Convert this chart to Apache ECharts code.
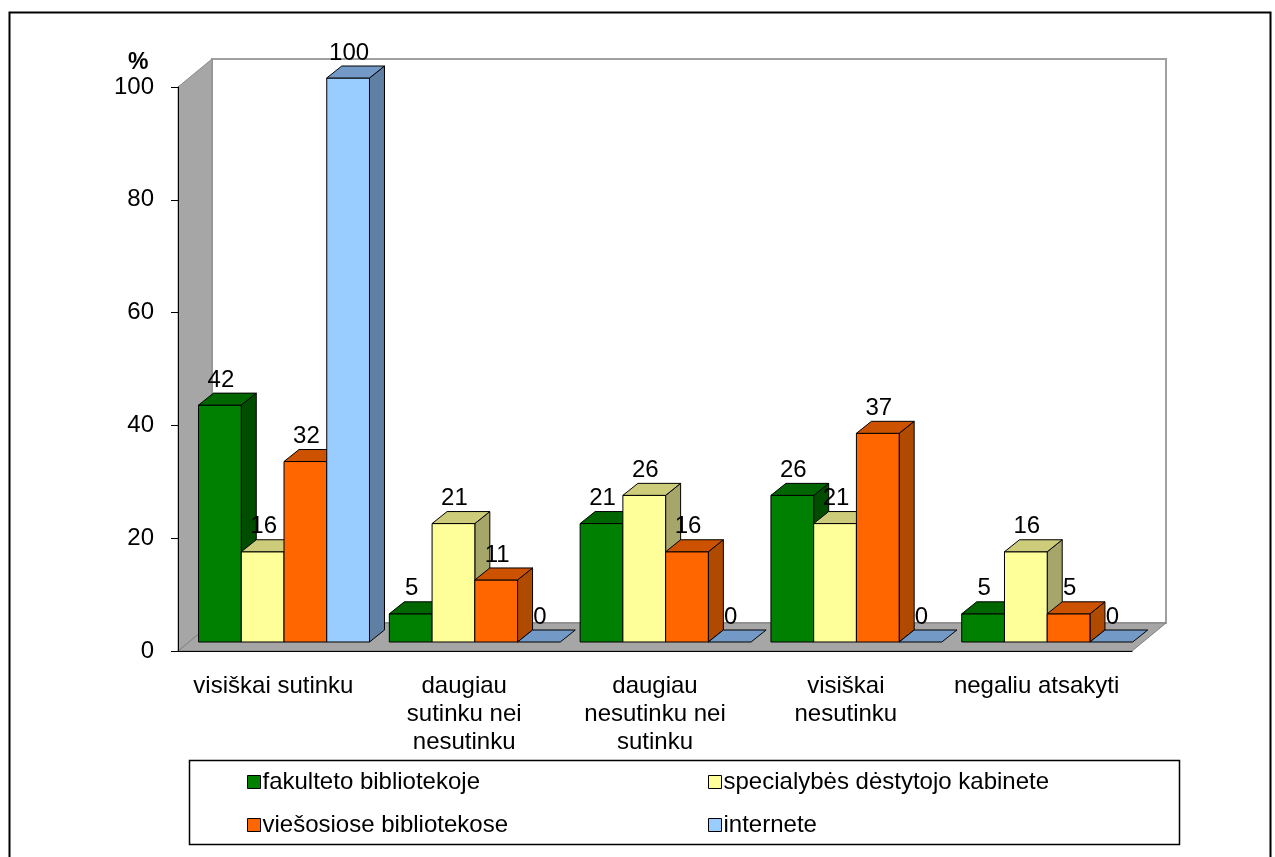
<!DOCTYPE html>
<html lang="lt">
<head>
<meta charset="UTF-8">
<script src="https://cdn.jsdelivr.net/npm/echarts@6/dist/echarts.min.js"></script>
<title>Atsakymai</title>
<style>
  html, body { margin: 0; padding: 0; background: #fff; }
  #chart { width: 1275px; height: 857px; }
</style>
</head>
<body>
<div id="chart"></div>
<script>
// data
const categories = ['visiškai sutinku', 'daugiau\nsutinku nei\nnesutinku', 'daugiau\nnesutinku nei\nsutinku', 'visiškai\nnesutinku', 'negaliu atsakyti'];
const seriesNames = ['fakulteto bibliotekoje', 'specialybės dėstytojo kabinete', 'viešosiose bibliotekose', 'internete'];
const fakultetoValues = [42, 5, 21, 26, 5];
const specialybesValues = [16, 21, 26, 21, 16];
const viesosioseValues = [32, 11, 16, 37, 5];
const interneteValues = [100, 0, 0, 0, 0];
const yTicks = [0, 20, 40, 60, 80, 100];

// face colours: front, top, side
const palette = [
  ['#008000', '#006600', '#004d00'],
  ['#FFFF99', '#CCCC7A', '#A6A66B'],
  ['#FF6600', '#CC5200', '#B04A00'],
  ['#99CCFF', '#7399C6', '#5F7FA3']
];

const DX = 11, DY = -9;     // bars sit a little behind the front axis plane
const BD = [15, -12];       // bar depth
const WD = [34, -28];       // wall depth
const font = '"Liberation Sans", Arial, sans-serif';

function barRenderer(s) {
  return function (params, api) {
    const idx = api.value(0), val = api.value(1);
    const base = api.coord([idx, 0]);
    const top = api.coord([idx, val]);
    const catW = api.size([1, 0])[0];
    const w = catW * 0.224;
    const x0 = base[0] - catW * 0.45 + s * w + DX;
    const yb = base[1] + DY, yt = top[1] + DY;
    const c = palette[s];
    const line = { stroke: '#000', lineWidth: 1 };
    const children = [];
    if (yb - yt > 0.5) {
      children.push({ type: 'polygon', shape: { points: [[x0 + w, yt], [x0 + w + BD[0], yt + BD[1]], [x0 + w + BD[0], yb + BD[1]], [x0 + w, yb]] }, style: Object.assign({ fill: c[2] }, line) });
      children.push({ type: 'rect', shape: { x: x0, y: yt, width: w, height: yb - yt }, style: Object.assign({ fill: c[0] }, line) });
    }
    children.push({ type: 'polygon', shape: { points: [[x0, yt], [x0 + w, yt], [x0 + w + BD[0], yt + BD[1]], [x0 + BD[0], yt + BD[1]]] }, style: Object.assign({ fill: c[1] }, line) });
    children.push({ type: 'text', x: x0 + w / 2 + 1, y: yt + BD[1] - 1, style: { text: String(val), font: '24px ' + font, fill: '#000', align: 'center', verticalAlign: 'bottom' } });
    return { type: 'group', children: children };
  };
}

function wallRenderer(params, api) {
  const catW = api.size([1, 0])[0];
  const left = api.coord([0, 0])[0] - catW / 2;
  const right = api.coord([categories.length - 1, 0])[0] + catW / 2;
  const y0 = api.coord([0, 0])[1];
  const y100 = api.coord([0, 100])[1];
  const bx = left + WD[0], by0 = y0 + WD[1], by100 = y100 + WD[1];
  return {
    type: 'group',
    children: [
      { type: 'rect', shape: { x: bx, y: by100, width: right + WD[0] - bx, height: by0 - by100 }, style: { fill: '#fff', stroke: '#a0a0a0', lineWidth: 2 } },
      { type: 'polygon', shape: { points: [[left, y100], [bx, by100], [bx, by0], [left, y0]] }, style: { fill: '#a6a6a6', stroke: '#8c8c8c', lineWidth: 1 } },
      { type: 'polygon', shape: { points: [[left, y0], [bx, by0], [right + WD[0], by0], [right, y0]] }, style: { fill: '#a6a6a6', stroke: '#7f7f7f', lineWidth: 1 } }
    ]
  };
}

const allValues = [fakultetoValues, specialybesValues, viesosioseValues, interneteValues];

const series = [{
  type: 'custom',
  name: 'walls',
  renderItem: wallRenderer,
  data: [[0, 0]],
  silent: true,
  z: 1
}];
allValues.forEach((vals, s) => {
  series.push({
    type: 'custom',
    name: seriesNames[s],
    renderItem: barRenderer(s),
    itemStyle: { color: palette[s][0] },
    data: vals.map((v, i) => [i, v]),
    z: 2
  });
});

const legendBase = {
  orient: 'vertical', top: 765, itemGap: 19,
  itemWidth: 13, itemHeight: 13, icon: 'rect',
  itemStyle: { borderColor: '#000', borderWidth: 1 },
  textStyle: { fontFamily: font, fontSize: 24, lineHeight: 24, color: '#000', padding: [0, 0, 0, -3] }
};

const chart = echarts.init(document.getElementById('chart'));
chart.setOption({
  animation: false,
  backgroundColor: '#fff',
  title: {
    text: '%',
    left: 123,
    top: 46,
    textStyle: { fontFamily: font, fontSize: 23, fontWeight: 'bold', color: '#000' }
  },
  grid: { left: 178, right: 143, top: 87, bottom: 206 },
  xAxis: {
    type: 'category',
    data: categories,
    axisLine: { lineStyle: { color: '#000', width: 1 } },
    axisTick: { length: 7, interval: 0, lineStyle: { color: '#000' } },
    axisLabel: { interval: 0, margin: 21, fontFamily: font, fontSize: 24, color: '#000', lineHeight: 28 },
    z: 5
  },
  yAxis: {
    type: 'value',
    min: yTicks[0],
    max: yTicks[yTicks.length - 1],
    interval: 20,
    splitLine: { show: false },
    axisLine: { show: true, lineStyle: { color: '#000', width: 1 } },
    axisTick: { show: true, length: 7, lineStyle: { color: '#000' } },
    axisLabel: { margin: 24, fontFamily: font, fontSize: 24, color: '#000' },
    z: 5
  },
  legend: [
    Object.assign({ left: 242, data: [seriesNames[0], seriesNames[2]] }, legendBase),
    Object.assign({ left: 703, data: [seriesNames[1], seriesNames[3]] }, legendBase)
  ],
  graphic: [
    { type: 'rect', left: 7, top: 10, shape: { width: 1261, height: 860 }, style: { fill: 'none', stroke: '#000', lineWidth: 2 }, silent: true },
    { type: 'rect', left: 187, top: 758, shape: { width: 990, height: 84 }, style: { fill: 'none', stroke: '#000', lineWidth: 1.5 }, silent: true }
  ],
  series: series
});
</script>
</body>
</html>
